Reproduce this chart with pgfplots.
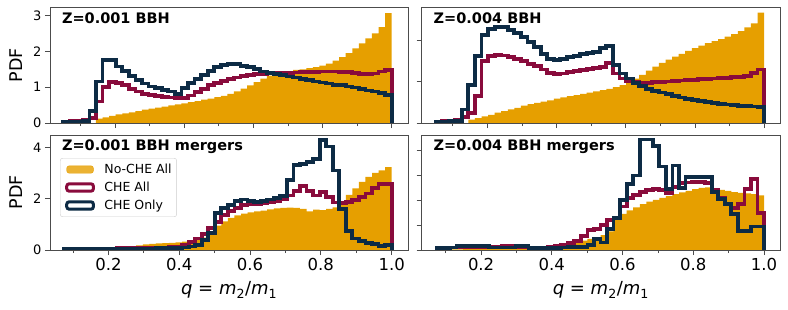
\documentclass[border=0pt]{standalone}
\usepackage{fontspec}
\setmainfont{DejaVu Sans}
\usepackage{pgfplots}
\pgfplotsset{compat=1.18}
\usepackage{pgfplotstable}
\definecolor{orng}{HTML}{E69F00}
\definecolor{cheall}{HTML}{890B3C}
\definecolor{cheonly}{HTML}{0D2B45}

% Top row bins: 0.05 + 0.019 i ; columns: o = No-CHE All, r = CHE All, b = CHE Only
\pgfplotstableread{
x o r b
0.050 0 0 0
0.050 0 0.03 0.02
0.069 0 0.05 0.03
0.088 0 0.07 0.04
0.107 0 0.09 0.05
0.126 0 0.14 0.33
0.145 0.12 0.60 1.16
0.164 0.16 1.00 1.76
0.183 0.20 1.14 1.76
0.202 0.24 1.12 1.58
0.221 0.27 1.05 1.46
0.240 0.30 0.96 1.32
0.259 0.33 0.88 1.20
0.278 0.37 0.82 1.10
0.297 0.40 0.78 1.02
0.316 0.43 0.75 0.97
0.335 0.46 0.73 0.93
0.354 0.49 0.71 0.88
0.373 0.52 0.70 0.82
0.392 0.55 0.70 0.97
0.411 0.58 0.77 1.11
0.430 0.61 0.86 1.22
0.449 0.65 0.95 1.33
0.468 0.68 1.05 1.45
0.487 0.72 1.12 1.56
0.506 0.76 1.18 1.62
0.525 0.81 1.23 1.65
0.544 0.88 1.27 1.64
0.563 0.96 1.31 1.60
0.582 1.05 1.34 1.56
0.601 1.14 1.36 1.50
0.620 1.24 1.37 1.44
0.639 1.32 1.38 1.40
0.658 1.38 1.39 1.36
0.677 1.42 1.40 1.33
0.696 1.45 1.40 1.30
0.715 1.48 1.41 1.27
0.734 1.50 1.42 1.22
0.753 1.53 1.43 1.19
0.772 1.56 1.43 1.16
0.791 1.60 1.44 1.13
0.810 1.66 1.44 1.10
0.829 1.74 1.44 1.07
0.848 1.84 1.43 1.05
0.867 1.95 1.42 1.02
0.886 2.08 1.40 0.99
0.905 2.22 1.37 0.95
0.924 2.36 1.36 0.91
0.943 2.50 1.38 0.88
0.962 2.68 1.44 0.84
0.981 3.07 1.48 0.79
1.000 3.07 1.48 0.79
1.000 0 0 0
}\tabTL

\pgfplotstableread{
x o r b
0.050 0 0 0
0.050 0 0.03 0.02
0.069 0 0.05 0.03
0.088 0 0.06 0.04
0.107 0 0.07 0.05
0.126 0 0.15 0.33
0.145 0.08 0.25 0.93
0.164 0.12 0.65 1.63
0.183 0.16 1.50 2.13
0.202 0.20 1.63 2.28
0.221 0.25 1.65 2.33
0.240 0.29 1.64 2.33
0.259 0.33 1.60 2.26
0.278 0.37 1.55 2.18
0.297 0.42 1.50 2.08
0.316 0.46 1.44 1.96
0.335 0.49 1.38 1.85
0.354 0.52 1.30 1.68
0.373 0.55 1.22 1.56
0.392 0.59 1.19 1.53
0.411 0.62 1.20 1.56
0.430 0.65 1.23 1.60
0.449 0.68 1.26 1.63
0.468 0.71 1.29 1.67
0.487 0.74 1.31 1.70
0.506 0.77 1.33 1.72
0.525 0.80 1.36 1.82
0.544 0.83 1.45 1.87
0.563 0.87 1.20 1.40
0.582 0.92 1.08 1.20
0.601 0.99 1.02 1.08
0.620 1.08 0.99 0.98
0.639 1.17 0.98 0.90
0.658 1.27 0.98 0.83
0.677 1.37 0.99 0.78
0.696 1.46 1.00 0.74
0.715 1.54 1.01 0.70
0.734 1.61 1.02 0.66
0.753 1.68 1.03 0.62
0.772 1.75 1.04 0.59
0.791 1.82 1.05 0.56
0.810 1.88 1.06 0.53
0.829 1.94 1.07 0.51
0.848 1.99 1.08 0.49
0.867 2.04 1.09 0.47
0.886 2.10 1.10 0.45
0.905 2.16 1.11 0.44
0.924 2.23 1.12 0.42
0.943 2.32 1.14 0.41
0.962 2.42 1.22 0.40
0.981 2.68 1.30 0.38
1.000 2.68 1.30 0.38
1.000 0 0 0
}\tabTR

% Bottom row bins: 0.075 + 0.0185 i
\pgfplotstableread{
x o r b
0.0750 0 0 0
0.0750 0.04 0.03 0.03
0.0935 0.04 0.03 0.03
0.1120 0.05 0.04 0.03
0.1305 0.05 0.04 0.03
0.1490 0.06 0.05 0.04
0.1675 0.07 0.05 0.04
0.1860 0.08 0.06 0.04
0.2045 0.10 0.06 0.05
0.2230 0.12 0.07 0.05
0.2415 0.13 0.07 0.05
0.2600 0.15 0.08 0.05
0.2785 0.18 0.08 0.06
0.2970 0.22 0.09 0.06
0.3155 0.24 0.09 0.06
0.3340 0.26 0.10 0.07
0.3525 0.27 0.10 0.07
0.3710 0.28 0.12 0.08
0.3895 0.30 0.14 0.08
0.4080 0.33 0.20 0.10
0.4265 0.37 0.30 0.14
0.4450 0.42 0.45 0.20
0.4635 0.48 0.62 0.40
0.4820 0.58 0.85 0.66
0.5005 0.95 1.10 1.44
0.5190 1.12 1.35 1.63
0.5375 1.25 1.52 1.76
0.5560 1.35 1.65 1.92
0.5745 1.42 1.74 1.97
0.5930 1.47 1.78 1.90
0.6115 1.50 1.80 1.88
0.6300 1.53 1.83 1.92
0.6485 1.58 1.86 1.97
0.6670 1.62 1.90 2.02
0.6855 1.64 1.97 2.10
0.7040 1.65 2.12 2.73
0.7225 1.64 2.30 3.31
0.7410 1.60 2.48 3.35
0.7595 1.50 2.30 3.42
0.7780 1.57 2.12 3.55
0.7965 1.55 2.25 4.27
0.8150 1.60 2.05 4.03
0.8335 1.66 1.85 3.10
0.8520 1.85 1.82 1.60
0.8705 2.15 1.86 0.75
0.8890 2.40 1.95 0.45
0.9075 2.65 2.05 0.34
0.9260 2.85 2.20 0.28
0.9445 3.00 2.40 0.22
0.9630 3.10 2.58 0.15
0.9815 3.23 2.58 0.20
1.0000 3.23 2.58 0.20
1.0000 0 0 0
}\tabBL

\pgfplotstableread{
x o r b
0.0750 0 0 0
0.0750 0.02 0.07 0.07
0.0935 0.02 0.07 0.07
0.1120 0.03 0.10 0.10
0.1305 0.03 0.10 0.17
0.1490 0.04 0.10 0.17
0.1675 0.04 0.10 0.17
0.1860 0.05 0.10 0.17
0.2045 0.05 0.12 0.17
0.2230 0.06 0.12 0.10
0.2415 0.06 0.12 0.10
0.2600 0.07 0.15 0.10
0.2785 0.08 0.15 0.10
0.2970 0.09 0.12 0.17
0.3155 0.10 0.12 0.17
0.3340 0.11 0.10 0.08
0.3525 0.12 0.10 0.08
0.3710 0.13 0.10 0.08
0.3895 0.14 0.12 0.08
0.4080 0.18 0.15 0.08
0.4265 0.22 0.20 0.10
0.4450 0.28 0.28 0.13
0.4635 0.33 0.35 0.13
0.4820 0.38 0.55 0.13
0.5005 0.45 0.80 0.20
0.5190 0.52 0.85 0.45
0.5375 0.60 1.00 0.30
0.5560 0.75 1.20 0.85
0.5745 1.25 1.30 1.28
0.5930 1.45 1.75 2.00
0.6115 1.60 2.10 2.65
0.6300 1.72 2.20 3.00
0.6485 1.85 2.35 4.45
0.6670 1.95 2.40 4.45
0.6855 2.02 2.45 4.20
0.7040 2.10 2.40 3.36
0.7225 2.17 2.30 2.45
0.7410 2.25 2.55 3.40
0.7595 2.32 2.70 2.50
0.7780 2.38 2.72 2.95
0.7965 2.45 2.75 2.95
0.8150 2.50 2.75 2.95
0.8335 2.52 2.70 2.95
0.8520 2.48 2.40 2.35
0.8705 2.42 2.10 2.05
0.8890 2.38 1.85 1.85
0.9075 2.33 1.70 1.45
0.9260 2.30 1.85 0.75
0.9445 2.28 2.45 0.75
0.9630 2.25 2.85 0.95
0.9815 2.20 1.50 0.95
1.0000 2.20 1.50 0.95
1.0000 0 0 0
}\tabBR

\newcommand{\hists}[1]{%
  \addplot[const plot, fill=orng, draw=none, forget plot] table[x=x,y=o]{#1} \closedcycle;
  \addplot[const plot, draw=cheall, line width=3.8pt, line join=miter, forget plot] table[x=x,y=r]{#1};
  \addplot[const plot, draw=cheonly, line width=3.8pt, line join=miter, forget plot] table[x=x,y=b]{#1};
}
\newcommand{\ptitle}[1]{\node[anchor=base west, inner sep=0pt, font=\bfseries\fontsize{14.5}{17}\selectfont] at (axis description cs:0.033,0.862) {#1};}
\newcommand{\lstrut}{\rule[-2.7pt]{0pt}{12pt}}

\pgfplotsset{
  panel/.style={
    scale only axis, width=358.3pt,
    axis on top,
    axis line style={black!70, line width=0.8pt},
    every tick/.style={black!70, line width=0.8pt},
    tick align=outside,
    major tick length=5pt, minor tick length=3pt,
    xtick={0.2,0.4,0.6,0.8,1.0},
    minor xtick={0.1,0.3,0.5,0.7,0.9},
    xtick pos=bottom, ytick pos=left,
    /pgf/number format/assume math mode=true,
    xticklabel={\pgfmathprintnumber[fixed,fixed zerofill,precision=1]{\tick}},
    xticklabel style={font=\fontsize{16.5}{19}\selectfont},
    yticklabel style={font=\fontsize{13}{15}\selectfont},
    ylabel style={at={(axis description cs:-0.095,0.5)}, anchor=center, font=\fontsize{17.5}{20}\selectfont},
    xlabel style={at={(axis description cs:0.5,-0.39)}, anchor=base, font=\fontsize{18}{21}\selectfont},
    ymin=0,
  },
}

\begin{document}
\begin{tikzpicture}
\path[use as bounding box] (0,0) rectangle (788pt,309pt);
% top left
\begin{axis}[panel, at={(50pt,186pt)}, anchor=south west, height=115.7pt,
  xmin=0.012, xmax=1.048, ymax=3.23, ytick={0,1,2,3}, xticklabels={}, ylabel={PDF}]
\hists{\tabTL}
\ptitle{Z=0.001 BBH}
\end{axis}
% top right
\begin{axis}[panel, at={(421.7pt,186pt)}, anchor=south west, height=115.7pt,
  xmin=0.010, xmax=1.046, ymax=2.81, ytick={0,1,2}, xticklabels={}, yticklabels={}]
\hists{\tabTR}
\ptitle{Z=0.004 BBH}
\end{axis}
% bottom left
\begin{axis}[panel, at={(50pt,59pt)}, anchor=south west, height=115pt,
  xmin=0.035, xmax=1.047, ymax=4.48, ytick={0,2,4}, ylabel={PDF},
  xlabel={\textit{q} = \textit{m}\textsubscript{2}/\textit{m}\textsubscript{1}},
  legend style={at={(axis description cs:0.028,0.80)}, anchor=north west,
    draw=black!20, rounded corners=2.5pt, fill=white, fill opacity=0.8, text opacity=1,
    font=\fontsize{12.5}{15}\selectfont, row sep=7pt, inner xsep=5pt, inner ysep=5.8pt,
    nodes={inner sep=0pt}},
  legend cell align=left]
\addlegendimage{legend image code/.code={\fill[orng] (0pt,-3.7pt) rectangle (26.7pt,3.7pt); \path[draw=none,fill=none] (0pt,0pt) -- (37.7pt,0pt);}}
\addlegendimage{legend image code/.code={\draw[cheall, line width=3pt, fill=white] (0pt,-3.7pt) rectangle (26.7pt,3.7pt); \path[draw=none,fill=none] (0pt,0pt) -- (37.7pt,0pt);}}
\addlegendimage{legend image code/.code={\draw[cheonly, line width=3pt, fill=white] (0pt,-3.7pt) rectangle (26.7pt,3.7pt); \path[draw=none,fill=none] (0pt,0pt) -- (37.7pt,0pt);}}
\hists{\tabBL}
\legend{\lstrut No-CHE All, \lstrut CHE All, \lstrut CHE Only}
\ptitle{Z=0.001 BBH mergers}
\end{axis}
% bottom right
\begin{axis}[panel, at={(421.7pt,59pt)}, anchor=south west, height=115pt,
  xmin=0.032, xmax=1.045, ymax=4.63, ytick={0,1,2,3,4}, yticklabels={},
  xlabel={\textit{q} = \textit{m}\textsubscript{2}/\textit{m}\textsubscript{1}}]
\hists{\tabBR}
\ptitle{Z=0.004 BBH mergers}
\end{axis}
\end{tikzpicture}
\end{document}
